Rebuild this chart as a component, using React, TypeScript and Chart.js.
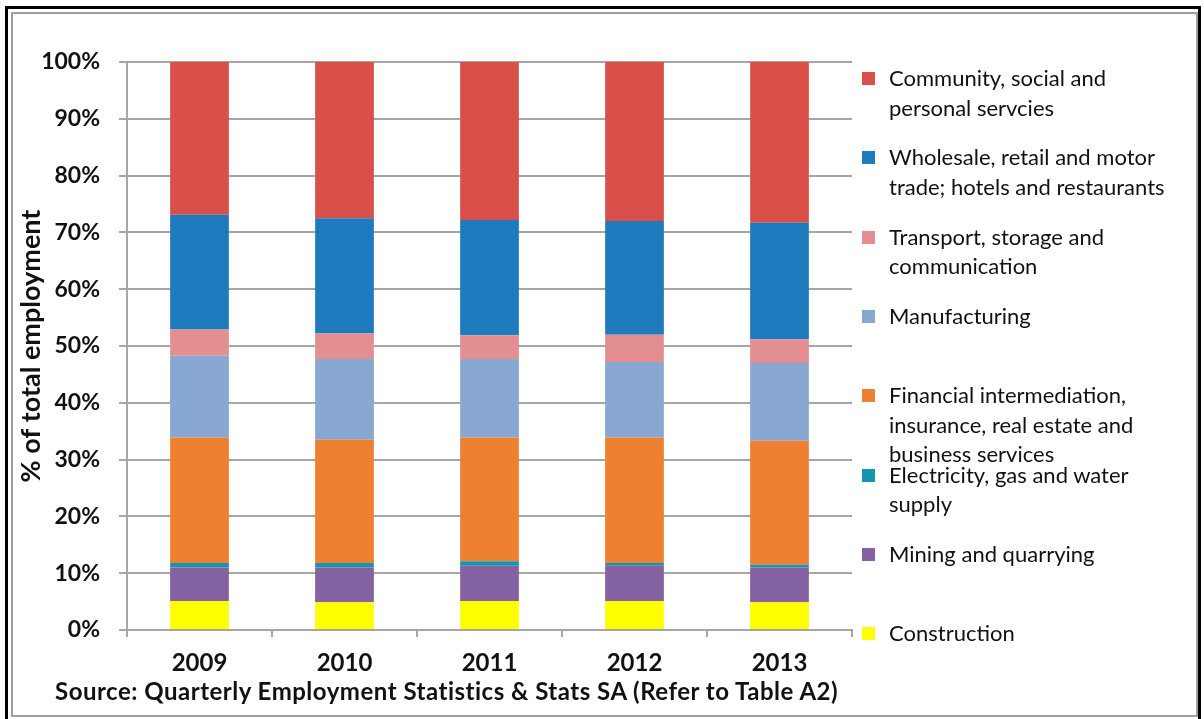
import React, { useEffect, useRef } from "react";
import { Chart, registerables } from "chart.js";

Chart.register(...registerables);

const years = ["2009", "2010", "2011", "2012", "2013"];

// stacked bottom -> top
const construction = [5.1, 4.9, 5.1, 5.1, 4.9];
const mining = [5.9, 6.1, 6.2, 6.2, 6.1];
const electricity = [0.8, 0.8, 0.8, 0.5, 0.5];
const financial = [22.1, 21.7, 21.8, 22.1, 21.8];
const manufacturing = [14.4, 14.2, 13.8, 13.3, 13.7];
const transport = [4.6, 4.5, 4.2, 4.8, 4.2];
const wholesale = [20.2, 20.3, 20.3, 20.0, 20.5];
const community = [26.9, 27.5, 27.8, 28.0, 28.3];

const seriesNames = [
  "Construction",
  "Mining and quarrying",
  "Electricity, gas and water supply",
  "Financial intermediation, insurance, real estate and business services",
  "Manufacturing",
  "Transport, storage and communication",
  "Wholesale, retail and motor trade; hotels and restaurants",
  "Community, social and personal servcies",
];
const seriesValues = [construction, mining, electricity, financial, manufacturing, transport, wholesale, community];
const seriesColors = ["#FFFF00", "#8562A2", "#1596AF", "#EE8131", "#88A7D1", "#E38F91", "#1E7BBE", "#D9504B"];

// legend lines (top -> bottom order)
const legendLines: string[][] = [
  ["Community, social and", "personal servcies"],
  ["Wholesale, retail and motor", "trade; hotels and restaurants"],
  ["Transport, storage and", "communication"],
  ["Manufacturing"],
  ["Financial intermediation,", "insurance, real estate and", "business services"],
  ["Electricity, gas and water", "supply"],
  ["Mining and quarrying"],
  ["Construction"],
];

const yTitle = "% of total employment";
const sourceText = "Source: Quarterly Employment Statistics & Stats SA (Refer to Table A2)";

export default function App() {
  const canvasRef = useRef<HTMLCanvasElement | null>(null);

  useEffect(() => {
    const ctx = canvasRef.current!;
    const chart = new Chart(ctx, {
      type: "bar",
      data: {
        labels: years,
        datasets: seriesNames.map((name, i) => ({
          label: name,
          data: seriesValues[i],
          backgroundColor: seriesColors[i],
          borderWidth: 0,
          categoryPercentage: 1,
          barPercentage: 0.405,
        })),
      },
      options: {
        animation: false,
        responsive: false,
        maintainAspectRatio: false,
        layout: { padding: { top: 62, right: 352, bottom: 0, left: 0 } },
        plugins: { legend: { display: false }, tooltip: { enabled: false } },
        scales: {
          x: {
            stacked: true,
            grid: { display: true, drawOnChartArea: false, drawTicks: true, tickLength: 7, color: "#A6A6A6", lineWidth: 2, offset: true },
            border: { display: true, color: "#A6A6A6", width: 2 },
            ticks: { color: "#111", font: { family: "Lato", size: 24, weight: "bold" }, padding: 12 },
            afterFit: (s: any) => { s.height = 89; },
          },
          y: {
            stacked: true,
            min: 0,
            max: 100,
            grid: { color: "#A6A6A6", lineWidth: 2, tickLength: 8 },
            border: { display: true, color: "#A6A6A6", width: 2 },
            ticks: {
              stepSize: 10,
              color: "#111",
              padding: 19,
              font: { family: "Lato", size: 23, weight: "bold" },
              callback: (v: any) => v + "%",
            },
            title: {
              display: true,
              text: yTitle,
              color: "#111",
              font: { family: "Lato", size: 27, weight: "bold" },
              padding: { top: 15, bottom: 0 },
            },
            afterFit: (s: any) => { s.width = 127; },
          },
        },
      },
    });
    return () => chart.destroy();
  }, []);

  const legendTop = 78;
  const legendStep = 79.3;
  const legendColorsTopDown = [...seriesColors].reverse();

  return (
    <div style={{ position: "fixed", left: 0, top: 0, width: 1204, height: 719, background: "#fff", overflow: "hidden" }}>
      <div style={{ position: "absolute", left: 5, top: 6, width: 1196, height: 720, border: "3px solid #000", boxSizing: "border-box" }} />
      <div style={{ position: "absolute", left: 11, top: 12, width: 1187, height: 705, border: "2px solid #A0A0A0", boxSizing: "border-box" }} />
      <canvas ref={canvasRef} width={1204} height={719} style={{ position: "absolute", left: 0, top: 0, width: 1204, height: 719 }} />
      {legendLines.map((lines, i) => (
        <div key={i} style={{ position: "absolute", left: 862, top: legendTop + i * legendStep - 15, fontFamily: "Lato", fontSize: 22, color: "#111", lineHeight: "29.5px" }}>
          <span style={{ position: "absolute", left: 0, top: 9, width: 13, height: 13, background: legendColorsTopDown[i] }} />
          <div style={{ marginLeft: 27, whiteSpace: "nowrap" }}>
            {lines.map((l, j) => (<div key={j}>{l}</div>))}
          </div>
        </div>
      ))}
      <div style={{ position: "absolute", left: 55, top: 676, fontFamily: "Lato", fontWeight: "bold", fontSize: 24, letterSpacing: "0.5px", color: "#111", whiteSpace: "nowrap" }}>{sourceText}</div>
    </div>
  );
}
